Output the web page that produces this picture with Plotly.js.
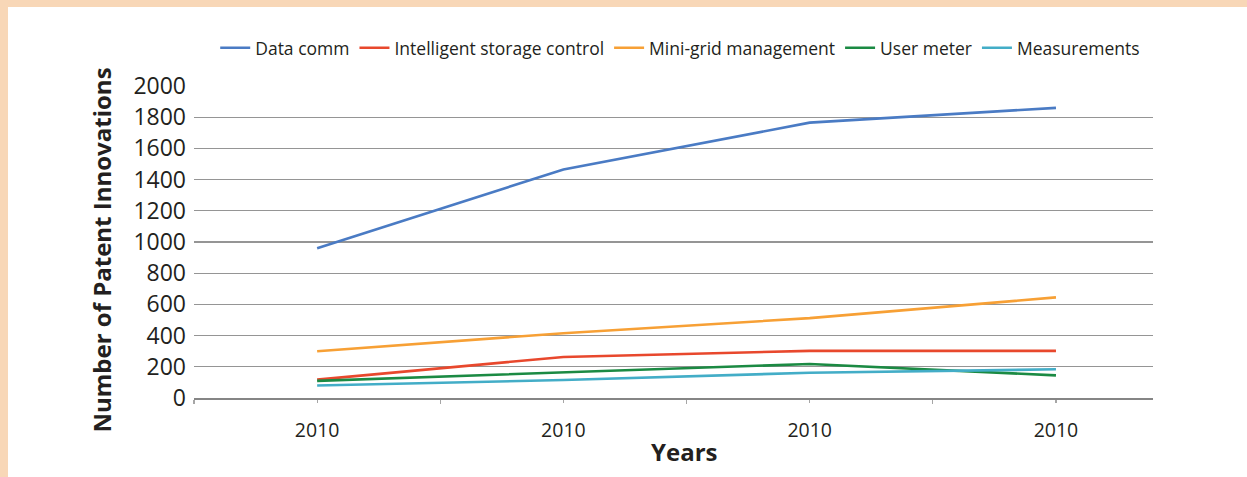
<!DOCTYPE html>
<html>
<head>
<meta charset="utf-8">
<script src="https://cdn.plot.ly/plotly-3.0.1.min.js"></script>
<style>
  html, body { margin: 0; padding: 0; background: #F8D7B7; width: 1247px; height: 477px; overflow: hidden; }
  #chart { position: absolute; left: 8px; top: 7px; width: 1239px; height: 470px; background: #fff; }
</style>
</head>
<body>
<div id="chart"></div>
<script>
// ---- Data ----
const years = ['2010', '2010', '2010', '2010'];
const seriesNames = ['Data comm', 'Intelligent storage control', 'Mini-grid management', 'User meter', 'Measurements'];
const dataComm = [960, 1465, 1765, 1860];
const intelligentStorage = [118, 263, 302, 302];
const miniGrid = [300, 415, 512, 645];
const userMeter = [110, 162, 218, 145];
const measurements = [80, 115, 162, 184];
const seriesColors = ['#4A7BC4', '#E8482D', '#F7A035', '#1B8A43', '#43ADC7'];
const yTicks = [0, 200, 400, 600, 800, 1000, 1200, 1400, 1600, 1800, 2000];

const seriesValues = [dataComm, intelligentStorage, miniGrid, userMeter, measurements];
const xIdx = years.map((_, i) => i);
const boundaries = years.map((_, i) => i - 0.5);
const xRange = [-0.5, years.length - 1 + 0.394];

const traces = seriesValues.map((vals, k) => ({
  type: 'scatter',
  mode: 'lines',
  name: seriesNames[k],
  x: xIdx,
  y: vals,
  line: { color: seriesColors[k], width: 2.6 },
  hoverinfo: 'skip'
}));

const FONT = 'Open Sans, Lato, DejaVu Sans, sans-serif';

const layout = {
  width: 1239,
  height: 470,
  margin: { l: 186, r: 94, t: 79, b: 79 },
  paper_bgcolor: '#ffffff',
  plot_bgcolor: '#ffffff',
  font: { family: FONT, color: '#231F20' },
  showlegend: true,
  legend: {
    orientation: 'h',
    x: 0.507, xanchor: 'center',
    y: 1.122, yanchor: 'middle',
    font: { family: FONT, size: 17.5, color: '#231F20' },
    itemwidth: 30,
    tracegroupgap: 0,
    bgcolor: 'rgba(0,0,0,0)'
  },
  xaxis: {
    range: xRange,
    tickmode: 'array',
    tickvals: xIdx,
    ticktext: years,
    ticks: 'outside',
    ticklen: 3,
    tickwidth: 1.2,
    tickcolor: '#A6A6A6',
    minor: { tickmode: 'array', tickvals: boundaries, ticks: 'outside', ticklen: 4, tickwidth: 1.2, tickcolor: '#A6A6A6', showgrid: false },
    ticklabelstandoff: 11,
    tickfont: { family: FONT, size: 19.5, color: '#231F20' },
    showline: true,
    linecolor: '#858585',
    linewidth: 2,
    showgrid: false,
    zeroline: false,
    fixedrange: true
  },
  xaxis2: {
    overlaying: 'x',
    anchor: 'y',
    range: xRange,
    tickmode: 'array',
    tickvals: xIdx,
    ticks: 'inside',
    ticklen: 3,
    tickwidth: 1.2,
    tickcolor: '#A6A6A6',
    minor: { tickmode: 'array', tickvals: boundaries, ticks: 'inside', ticklen: 5, tickwidth: 1.2, tickcolor: '#A6A6A6', showgrid: false },
    showticklabels: false,
    showline: false,
    showgrid: false,
    zeroline: false,
    side: 'bottom'
  },
  yaxis: {
    range: [0, 2000],
    tickmode: 'array',
    tickvals: yTicks,
    ticktext: yTicks.map(String),
    ticks: '',
    ticklabelstandoff: 7,
    tickfont: { family: FONT, size: 23, color: '#231F20' },
    showgrid: true,
    gridcolor: '#959595',
    gridwidth: 1.2,
    zeroline: false,
    showline: false,
    fixedrange: true
  },
  annotations: [
    {
      text: '<b>Number of Patent Innovations</b>',
      xref: 'paper', yref: 'paper',
      x: -0.0965, y: 0.474,
      xanchor: 'center', yanchor: 'middle',
      textangle: -90,
      showarrow: false,
      font: { family: FONT, size: 24, color: '#231F20' }
    },
    {
      text: '<b>Years</b>',
      xref: 'paper', yref: 'paper',
      x: 0.511, y: -0.170,
      xanchor: 'center', yanchor: 'middle',
      showarrow: false,
      font: { family: FONT, size: 24, color: '#231F20' }
    }
  ]
};

Plotly.newPlot('chart', traces, layout, { staticPlot: true, displayModeBar: false });
</script>
</body>
</html>
